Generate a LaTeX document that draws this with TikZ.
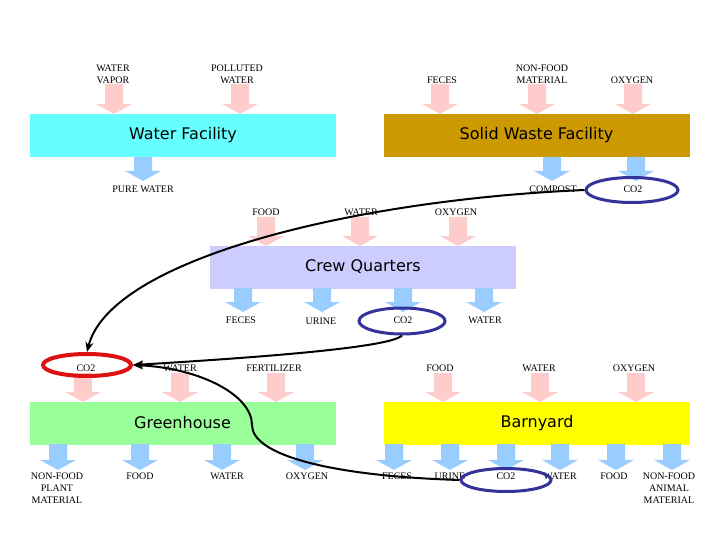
\documentclass[tikz,border=0pt]{standalone}
\usepackage{fontspec}
\setmainfont{Liberation Serif}
\newfontfamily\unitfont{DejaVu Sans}
\usepackage{tikz}
\usetikzlibrary{arrows.meta}
\usetikzlibrary{shapes.geometric}
\usepackage{xcolor}

\definecolor{inpink}{HTML}{FFCCCC}
\definecolor{outblue}{HTML}{99CCFF}
\definecolor{waterfill}{HTML}{66FFFF}
\definecolor{wastefill}{HTML}{CC9900}
\definecolor{crewfill}{HTML}{CCCCFF}
\definecolor{greenfill}{HTML}{99FF99}
\definecolor{barnfill}{HTML}{FFFF00}
\definecolor{ringblue}{HTML}{333399}
\definecolor{ringred}{HTML}{DD1111}

% block arrow pointing down: colour, x, top, tip
\newcommand{\flowarrow}[4]{%
    \fill[#1] (#2-9,#3) -- (#2+9,#3) -- (#2+9,#4-10) -- (#2+18,#4-10)
        -- (#2,#4) -- (#2-18,#4-10) -- (#2-9,#4-10) -- cycle;}

\tikzset{
    unit/.style={rectangle, minimum width=306pt, minimum height=43pt, inner sep=0pt,
        font=\unitfont\fontsize{16}{18}\selectfont},
    flowlabel/.style={inner sep=0pt, align=center, font=\fontsize{10}{12}\selectfont},
    ring/.style={ellipse, draw=ringblue, line width=3pt, inner sep=0pt},
    cycleline/.style={line width=2pt, -{Stealth[length=10pt,width=8pt]}}
}

\begin{document}
\begin{tikzpicture}[x=1pt,y=-1pt]
    \useasboundingbox (0,0) rectangle (720,540);

    % units
    \node[unit, fill=waterfill] (water) at (183,135.5) {Water Facility\hspace{10pt}};
    \node[unit, fill=wastefill] (waste) at (536.5,135.5) {Solid Waste Facility\hspace{10pt}};
    \node[unit, fill=crewfill] (crew) at (363,267) {Crew Quarters\hspace{10pt}};
    \node[unit, fill=greenfill] (green) at (182.5,423) {Greenhouse\hspace{10pt}};
    \node[unit, fill=barnfill] (barn) at (537,423) {Barnyard\hspace{10pt}};

    % water facility
    \flowarrow{inpink}{114}{84}{114}
    \flowarrow{inpink}{240}{84}{114}
    \flowarrow{outblue}{143}{157}{181}
    \node[flowlabel] (wvapor) at (113,74.5) {WATER\\VAPOR};
    \node[flowlabel] (wpolluted) at (237,74.5) {POLLUTED\\WATER};
    \node[flowlabel] (wpure) at (143,189) {PURE WATER};

    % solid waste facility
    \flowarrow{inpink}{440}{84}{114}
    \flowarrow{inpink}{537}{84}{114}
    \flowarrow{inpink}{633}{84}{114}
    \flowarrow{outblue}{552}{157}{181}
    \flowarrow{outblue}{636}{157}{181}
    \node[flowlabel] (sfeces) at (442,80) {FECES};
    \node[flowlabel] (snonfood) at (542,74.5) {NON-FOOD\\MATERIAL};
    \node[flowlabel] (soxygen) at (632,80) {OXYGEN};
    \node[flowlabel] (scompost) at (553,189) {COMPOST};
    \node[flowlabel] (sco2) at (633,189) {CO2};
    \node[ring, minimum width=92pt, minimum height=25pt] (sring) at (632,190) {};

    % crew quarters
    \flowarrow{inpink}{266}{217}{246}
    \flowarrow{inpink}{360}{217}{246}
    \flowarrow{inpink}{458}{217}{246}
    \flowarrow{outblue}{243}{288}{312}
    \flowarrow{outblue}{322}{288}{312}
    \flowarrow{outblue}{403}{288}{312}
    \flowarrow{outblue}{484}{288}{312}
    \node[flowlabel] (cfood) at (266,212) {FOOD};
    \node[flowlabel] (cwater) at (361,212) {WATER};
    \node[flowlabel] (coxygen) at (456,212) {OXYGEN};
    \node[flowlabel] (cfeces) at (241,320) {FECES};
    \node[flowlabel] (curine) at (321,321) {URINE};
    \node[flowlabel] (cco2) at (403,320) {CO2};
    \node[flowlabel] (cwaterout) at (485,320) {WATER};
    \node[ring, minimum width=86pt, minimum height=26pt] (cring) at (402,321) {};

    % greenhouse
    \flowarrow{inpink}{83}{373}{402}
    \flowarrow{inpink}{180}{373}{402}
    \flowarrow{inpink}{276}{373}{402}
    \flowarrow{outblue}{58}{444}{470}
    \flowarrow{outblue}{140}{444}{470}
    \flowarrow{outblue}{222}{444}{470}
    \flowarrow{outblue}{305}{444}{470}
    \node[flowlabel] (gco2) at (86,368) {CO2};
    \node[flowlabel] (gwater) at (180,368) {WATER};
    \node[flowlabel] (gfertilizer) at (274,368) {FERTILIZER};
    \node[flowlabel] (gnonfood) at (57,488) {NON-FOOD\\PLANT\\MATERIAL};
    \node[flowlabel] (gfood) at (140,476) {FOOD};
    \node[flowlabel] (gwaterout) at (227,476) {WATER};
    \node[flowlabel] (goxygen) at (307,476) {OXYGEN};
    \node[ring, draw=ringred, line width=4pt, minimum width=88pt, minimum height=22pt] (gring) at (87,365) {};

    % barnyard
    \flowarrow{inpink}{443}{373}{402}
    \flowarrow{inpink}{540}{373}{402}
    \flowarrow{inpink}{636}{373}{402}
    \flowarrow{outblue}{394}{444}{470}
    \flowarrow{outblue}{450}{444}{470}
    \flowarrow{outblue}{506}{444}{470}
    \flowarrow{outblue}{560}{444}{470}
    \flowarrow{outblue}{616}{444}{470}
    \flowarrow{outblue}{672}{444}{470}
    \node[flowlabel] (bfood) at (440,368) {FOOD};
    \node[flowlabel] (bwater) at (539,368) {WATER};
    \node[flowlabel] (boxygen) at (634,368) {OXYGEN};
    \node[flowlabel] (bfeces) at (397,476) {FECES};
    \node[flowlabel] (burine) at (450,476) {URINE};
    \node[flowlabel] (bco2) at (506,476) {CO2};
    \node[flowlabel] (bwaterout) at (560,476) {WATER};
    \node[flowlabel] (bfoodout) at (614,476) {FOOD};
    \node[flowlabel] (bnonfood) at (669,488) {NON-FOOD\\ANIMAL\\MATERIAL};
    \node[ring, minimum width=90pt, minimum height=23pt] (bring) at (506,480) {};

    % CO2 back to the greenhouse
    \draw[cycleline] (sring.west) .. controls (350,200) and (110,260) .. (gring.north);
    \draw[cycleline] (cring.south) .. controls (390,348) and (250,358) .. (gring.east);
    \draw[cycleline] (bring.west) .. controls (330,476) and (252,455) .. (252,425)
        .. controls (252,395) and (200,368) .. (gring.east);
\end{tikzpicture}
\end{document}
